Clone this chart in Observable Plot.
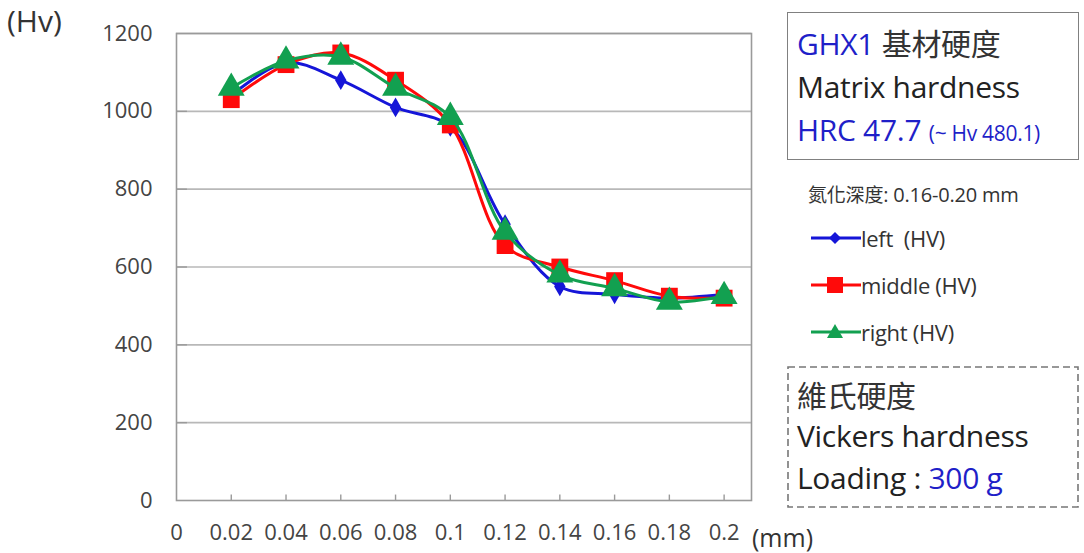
<!DOCTYPE html>
<html>
<head>
<meta charset="utf-8">
<script src="https://cdn.jsdelivr.net/npm/d3@7"></script>
<script src="https://cdn.jsdelivr.net/npm/@observablehq/plot@0.6"></script>
<style>
  html, body { margin: 0; padding: 0; background: #fff; }
  #wrap { position: relative; width: 1084px; height: 553px; font-family: "Open Sans", "Noto Sans", sans-serif; color: #222; overflow: hidden; }
  .abs { position: absolute; white-space: nowrap; }
  .blue { color: #1f1fc8; }
  .cjk { font-family: "Noto Sans CJK TC", "Noto Sans CJK SC", sans-serif; }
</style>
</head>
<body>
<div id="wrap"></div>
<script>
const depth = [0.02, 0.04, 0.06, 0.08, 0.10, 0.12, 0.14, 0.16, 0.18, 0.20];
const leftHV   = [1040, 1125, 1080, 1010, 960, 710, 550, 530, 520, 530];
const middleHV = [1030, 1120, 1150, 1080, 965, 655, 600, 565, 525, 520];
const rightHV  = [1060, 1130, 1140, 1060, 985, 690, 580, 545, 510, 525];
const seriesNames = ["left  (HV)", "middle (HV)", "right (HV)"];
const seriesColors = ["#1515d8", "#ff0a0a", "#12a050"];
const xTicks = [0, 0.02, 0.04, 0.06, 0.08, 0.1, 0.12, 0.14, 0.16, 0.18, 0.2];
const yTicks = [0, 200, 400, 600, 800, 1000, 1200];

const toRows = (vals) => depth.map((d, i) => ({depth: d, hv: vals[i]}));
const leftRows = toRows(leftHV), midRows = toRows(middleHV), rightRows = toRows(rightHV);

const fmtX = d => d === 0 ? "0" : String(+d.toFixed(2));
const fmtY = d => String(d);

const chart = Plot.plot({
  width: 1084,
  height: 553,
  marginLeft: 176,
  marginRight: 333,
  marginTop: 33,
  marginBottom: 53,
  style: {fontFamily: "'Open Sans', 'Noto Sans', sans-serif", fontSize: "23px", color: "#444", background: "#fff"},
  x: {domain: [0, 0.21]},
  y: {domain: [0, 1200]},
  marks: [
    Plot.ruleY(yTicks.slice(1), {stroke: "#b8b8b8", strokeWidth: 1.6}),
    Plot.frame({stroke: "#9a9a9a", strokeWidth: 1.6}),
    Plot.ruleX(xTicks.slice(1), {y1: 0, y2: 14, stroke: "#9a9a9a", strokeWidth: 1.4}),
    Plot.ruleY(yTicks.slice(1, -1), {x1: 0, x2: 0.004, stroke: "#9a9a9a", strokeWidth: 1.4}),
    Plot.axisY({ticks: yTicks, tickFormat: fmtY, tickSize: 0, tickPadding: 24, label: null, fill: "#444", fontSize: 22}),
    Plot.axisX({ticks: xTicks, tickFormat: fmtX, tickSize: 0, tickPadding: 24, label: null, fill: "#444", fontSize: 22}),
    Plot.line(leftRows, {x: "depth", y: "hv", stroke: seriesColors[0], strokeWidth: 3, curve: "catmull-rom"}),
    Plot.dot(leftRows, {x: "depth", y: "hv", symbol: "diamond", fill: seriesColors[0], r: 6}),
    Plot.line(midRows, {x: "depth", y: "hv", stroke: seriesColors[1], strokeWidth: 3, curve: "catmull-rom"}),
    Plot.dot(midRows, {x: "depth", y: "hv", symbol: "square", fill: seriesColors[1], r: 9.5}),
    Plot.line(rightRows, {x: "depth", y: "hv", stroke: seriesColors[2], strokeWidth: 3, curve: "catmull-rom"}),
    Plot.dot(rightRows, {x: "depth", y: "hv", symbol: "triangle", fill: seriesColors[2], r: 10})
  ]
});

const wrap = document.getElementById("wrap");
wrap.appendChild(chart);

function addDiv(html, style) {
  const d = document.createElement("div");
  d.className = "abs";
  d.innerHTML = html;
  Object.assign(d.style, style);
  wrap.appendChild(d);
  return d;
}

addDiv("(Hv)", {left: "7px", top: "0px", fontSize: "30px", color: "#333"});
addDiv("(mm)", {left: "752px", top: "520px", fontSize: "25px", color: "#333"});

// top solid box
addDiv(
  '<div style="line-height:43px"><span class="blue">GHX1</span> <span class="cjk" style="color:#333">基材硬度</span></div>' +
  '<div style="line-height:43px">Matrix hardness</div>' +
  '<div style="line-height:43px"><span class="blue">HRC 47.7 <span style="font-size:21px">(~ Hv 480.1)</span></span></div>',
  {left: "787px", top: "12px", width: "281px", height: "138px", border: "1.6px solid #808080", padding: "8px 0 0 9px", fontSize: "30px", color: "#222", boxSizing: "content-box", letterSpacing: "-0.3px"}
);

// legend title
addDiv('<span class="cjk" style="font-size:19px">氮化深度</span>: 0.16-0.20 mm',
  {left: "808px", top: "180px", fontSize: "20px", color: "#333", letterSpacing: "-0.2px"});

const symbolsSvg = [
  '<polygon points="24,4 30,10 24,16 18,10" fill="' + seriesColors[0] + '"/>',
  '<rect x="16" y="2" width="16" height="16" fill="' + seriesColors[1] + '"/>',
  '<polygon points="24,2 32,16 16,16" fill="' + seriesColors[2] + '"/>'
];
seriesNames.forEach((name, i) => {
  addDiv(
    '<svg width="50" height="20" style="vertical-align:middle"><line x1="0" y1="10" x2="50" y2="10" stroke="' + seriesColors[i] + '" stroke-width="3"/>' + symbolsSvg[i] + '</svg>' +
    '<span style="vertical-align:middle;white-space:pre">' + name + '</span>',
    {left: "811px", top: (220 + i * 47) + "px", fontSize: "22px", color: "#333", letterSpacing: "-0.3px"}
  );
});

// dashed box (border drawn with an svg rect for longer dashes)
addDiv(
  '<svg width="292" height="142" style="position:absolute;left:0;top:0"><rect x="1" y="1" width="290" height="140" fill="none" stroke="#777" stroke-width="1.6" stroke-dasharray="7,4"/></svg>' +
  '<div style="position:relative;padding:7px 0 0 10px">' +
  '<div class="cjk" style="line-height:42px;color:#333">維氏硬度</div>' +
  '<div style="line-height:42px">Vickers hardness</div>' +
  '<div style="line-height:42px">Loading : <span class="blue">300 g</span></div></div>',
  {left: "787px", top: "366px", width: "292px", height: "142px", fontSize: "30px", color: "#222", letterSpacing: "-0.3px"}
);
</script>
</body>
</html>
